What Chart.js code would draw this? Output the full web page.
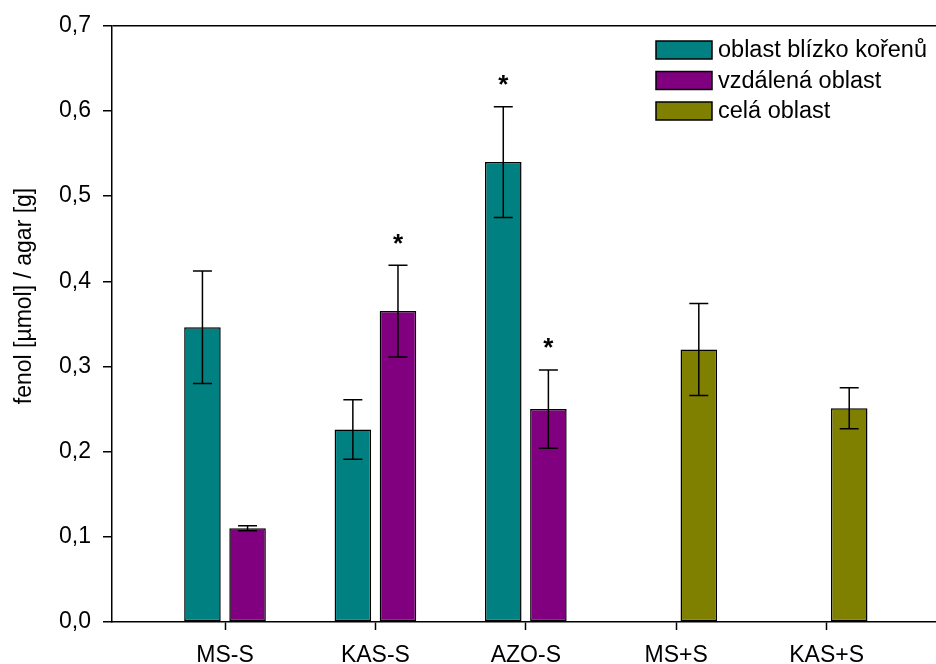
<!DOCTYPE html>
<html>
<head>
<meta charset="utf-8">
<title>fenol v agaru</title>
<script src="https://cdn.jsdelivr.net/npm/chart.js@4/dist/chart.umd.min.js"></script>
<style>
  html, body { margin: 0; padding: 0; background: #ffffff; }
  #c { display: block; }
</style>
</head>
<body>
<canvas id="c" width="936" height="664"></canvas>
<script>
// Categories along the x axis
const categories = ['MS-S', 'KAS-S', 'AZO-S', 'MS+S', 'KAS+S'];
const seriesNames = ['oblast blízko kořenů', 'vzdálená oblast', 'celá oblast'];

// Means and their errors (fenol µmol per g agar)
const nearRoots    = [0.346, 0.226, 0.540, null, null];
const nearRootsErr = [0.066, 0.035, 0.065, null, null];
const farZone      = [0.110, 0.365, 0.250, null, null];
const farZoneErr   = [0.003, 0.054, 0.046, null, null];
const wholeZone    = [null, null, null, 0.320, 0.251];
const wholeZoneErr = [null, null, null, 0.054, 0.024];

// Significant differences, marked with an asterisk
const nearRootsSig = [false, false, true, false, false];
const farZoneSig   = [false, true, true, false, false];
const wholeZoneSig = [false, false, false, false, false];

const yTicks = [0, 0.1, 0.2, 0.3, 0.4, 0.5, 0.6, 0.7];

const colors = ['#008080', '#800080', '#808000'];
const FONT = '"Liberation Sans", Arial, Helvetica, sans-serif';

function buildSeries(values, errors, sig) {
  const pts = [], errs = [], marks = [];
  values.forEach((v, i) => {
    if (v === null) return;
    pts.push({ x: i + 1, y: v });
    errs.push(errors[i]);
    marks.push(sig[i]);
  });
  return { pts, errs, marks };
}

const s0 = buildSeries(nearRoots, nearRootsErr, nearRootsSig);
const s1 = buildSeries(farZone, farZoneErr, farZoneSig);
const s2 = buildSeries(wholeZone, wholeZoneErr, wholeZoneSig);

function barSet(label, s, color, stack) {
  return {
    label: label,
    data: s.pts,
    errors: s.errs,
    marks: s.marks,
    stack: stack,
    backgroundColor: color,
    borderColor: '#000000',
    borderWidth: 1.5,
    borderSkipped: false,
    categoryPercentage: 0.6,
    barPercentage: 0.81
  };
}

// Error bars with caps, plus asterisks above significant bars
const errorBars = {
  id: 'errorBars',
  afterDatasetsDraw(chart) {
    const ctx = chart.ctx;
    const ys = chart.scales.y;
    ctx.save();
    ctx.strokeStyle = '#000000';
    ctx.lineWidth = 1.5;
    chart.data.datasets.forEach((ds, di) => {
      const meta = chart.getDatasetMeta(di);
      meta.data.forEach((el, j) => {
        const v = ds.data[j].y, e = ds.errors[j];
        const x = el.x;
        const yt = ys.getPixelForValue(v + e);
        const yb = ys.getPixelForValue(v - e);
        const half = 9.5;
        ctx.beginPath();
        ctx.moveTo(x, yt); ctx.lineTo(x, yb);
        ctx.moveTo(x - half, yt); ctx.lineTo(x + half, yt);
        ctx.moveTo(x - half, yb); ctx.lineTo(x + half, yb);
        ctx.stroke();
        if (ds.marks[j]) {
          ctx.font = 'bold 26px ' + FONT;
          ctx.fillStyle = '#000000';
          ctx.textAlign = 'center';
          ctx.textBaseline = 'alphabetic';
          const m = ctx.measureText('*');
          const cy = yt - 26.5;
          const base = cy - (m.actualBoundingBoxDescent - m.actualBoundingBoxAscent) / 2;
          ctx.fillText('*', x, base);
        }
      });
    });
    ctx.restore();
  }
};

// Legend in the upper right and the y-axis title
const decorations = {
  id: 'decorations',
  afterDraw(chart) {
    const ctx = chart.ctx;
    ctx.save();
    const bx = 656, bw = 56, bh = 18, by0 = 41, step = 30.5;
    ctx.font = '23.5px ' + FONT;
    ctx.textAlign = 'left';
    ctx.textBaseline = 'middle';
    seriesNames.forEach((name, i) => {
      const by = by0 + i * step;
      ctx.fillStyle = colors[i];
      ctx.fillRect(bx, by, bw, bh);
      ctx.strokeStyle = '#000000';
      ctx.lineWidth = 1.5;
      ctx.strokeRect(bx, by, bw, bh);
      ctx.fillStyle = '#000000';
      ctx.fillText(name, 718, by + bh / 2 + 1);
    });

    ctx.font = '23px ' + FONT;
    ctx.translate(25, 296);
    ctx.rotate(-Math.PI / 2);
    ctx.textAlign = 'center';
    ctx.textBaseline = 'middle';
    ctx.fillText('fenol [µmol] / agar [g]', 0, 0);
    ctx.restore();
  }
};

new Chart(document.getElementById('c'), {
  type: 'bar',
  data: {
    datasets: [
      barSet(seriesNames[0], s0, colors[0], 'near'),
      barSet(seriesNames[1], s1, colors[1], 'other'),
      barSet(seriesNames[2], s2, colors[2], 'other')
    ]
  },
  options: {
    responsive: false,
    animation: false,
    devicePixelRatio: 1,
    layout: { padding: { top: 24, left: 0, right: 0, bottom: 0 } },
    plugins: {
      legend: { display: false },
      tooltip: { enabled: false },
      title: { display: false }
    },
    scales: {
      x: {
        type: 'linear',
        min: 0.2487,
        max: 5.727,
        offset: false,
        afterBuildTicks(scale) {
          scale.ticks = categories.map((c, i) => ({ value: i + 1 }));
        },
        afterFit(scale) { scale.height = 42; },
        grid: {
          offset: false,
          drawOnChartArea: false,
          drawTicks: true,
          tickLength: 8,
          tickColor: '#000000',
          tickWidth: 1.5
        },
        border: { display: true, color: '#000000', width: 1.5 },
        ticks: {
          autoSkip: false,
          maxRotation: 0,
          padding: 12,
          color: '#000000',
          font: { family: FONT, size: 23 },
          callback: (v) => categories[Math.round(v) - 1] || ''
        }
      },
      y: {
        min: 0,
        max: 0.7,
        stacked: false,
        afterBuildTicks(scale) {
          scale.ticks = yTicks.map(v => ({ value: v }));
        },
        afterFit(scale) { scale.width = 112; },
        grid: {
          drawOnChartArea: true,
          color: (c) => (c.tick && c.tick.value === 0.7) ? '#000000' : 'rgba(0,0,0,0)',
          lineWidth: 1.5,
          drawTicks: true,
          tickLength: 9,
          tickColor: '#000000',
          tickWidth: 1.5
        },
        border: { display: true, color: '#000000', width: 1.5 },
        ticks: {
          padding: 12,
          color: '#000000',
          font: { family: FONT, size: 23 },
          callback: (v) => Number(v).toFixed(1).replace('.', ',')
        }
      }
    }
  },
  plugins: [errorBars, decorations]
});
</script>
</body>
</html>
